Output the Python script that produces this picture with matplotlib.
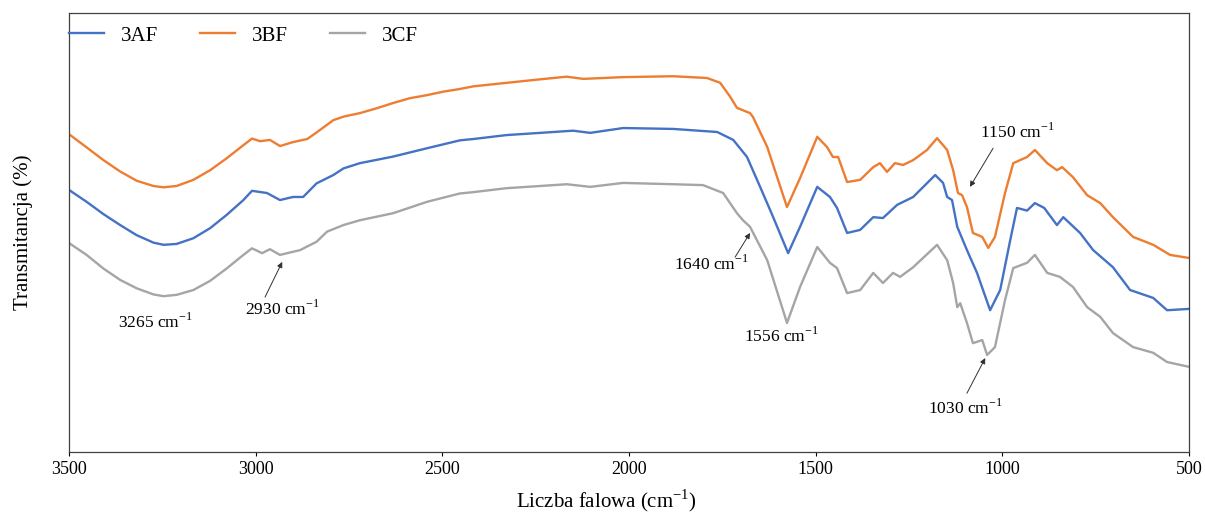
import matplotlib

matplotlib.use("Agg")
import matplotlib.pyplot as plt

plt.rcParams["font.family"] = ["Liberation Serif", "DejaVu Serif"]
plt.rcParams["mathtext.fontset"] = "custom"
plt.rcParams["mathtext.rm"] = "Liberation Serif"

# colours (Excel-like default palette)
C_A = "#4472C4"
C_B = "#ED7D31"
C_C = "#A5A5A5"

# ---- data (wavenumber cm-1, transmittance in arbitrary %) ----
WN_B = [3500, 3453, 3408, 3363, 3319, 3274, 3247, 3212, 3167, 3122, 3078, 3033,
        3010, 2988, 2962, 2935, 2900, 2862, 2837, 2792, 2765, 2721, 2676, 2632,
        2587, 2541, 2497, 2453, 2417, 2328, 2238, 2167, 2123, 2016, 1882, 1791,
        1756, 1729, 1711, 1676, 1668, 1630, 1577, 1542, 1496, 1470, 1454, 1440,
        1416, 1381, 1346, 1328, 1309, 1288, 1266, 1239, 1202, 1175, 1148, 1132,
        1119, 1108, 1095, 1079, 1054, 1038, 1020, 993, 971, 934, 913, 880, 854,
        840, 811, 773, 738, 704, 650, 596, 551, 500]
T_B = [72.4, 69.4, 66.5, 63.9, 61.8, 60.6, 60.3, 60.6, 62.0, 64.2, 66.9, 69.9,
       71.4, 70.8, 71.1, 69.7, 70.6, 71.3, 72.8, 75.6, 76.4, 77.2, 78.3, 79.5,
       80.6, 81.3, 82.1, 82.7, 83.3, 84.1, 84.9, 85.5, 85.0, 85.4, 85.6, 85.2,
       84.1, 80.9, 78.4, 77.2, 76.3, 69.5, 55.8, 62.4, 71.8, 69.5, 67.2, 67.2,
       61.5, 62.0, 64.9, 65.8, 63.8, 65.8, 65.4, 66.5, 68.8, 71.5, 68.8, 64.2,
       59.0, 58.5, 55.8, 49.9, 49.0, 46.5, 49.0, 59.0, 65.8, 67.2, 68.8, 65.8, 64.2,
       64.9, 62.6, 58.5, 56.7, 53.5, 49.0, 47.2, 44.9, 44.2]

WN_A = [3500, 3453, 3408, 3363, 3319, 3274, 3247, 3212, 3167, 3122, 3078, 3033,
        3010, 2970, 2935, 2900, 2873, 2837, 2792, 2765, 2721, 2632, 2541, 2453,
        2417, 2328, 2238, 2150, 2104, 2016, 1882, 1764, 1721, 1684, 1649, 1614,
        1574, 1542, 1496, 1462, 1443, 1416, 1381, 1346, 1320, 1282, 1239, 1180,
        1159, 1148, 1135, 1121, 1095, 1068, 1033, 1006, 979, 961, 934, 913, 888,
        854, 837, 792, 757, 704, 658, 596, 559, 500]
T_A = [59.7, 57.0, 54.2, 51.7, 49.4, 47.7, 47.2, 47.4, 48.7, 51.0, 54.0, 57.4,
       59.5, 59.0, 57.4, 58.1, 58.1, 61.2, 63.1, 64.6, 65.8, 67.3, 69.2, 71.0,
       71.3, 72.2, 72.7, 73.2, 72.7, 73.8, 73.6, 72.9, 71.1, 67.2, 60.4, 53.5,
       45.3, 51.3, 60.4, 58.1, 55.6, 49.9, 50.6, 53.5, 53.3, 56.3, 58.1, 63.1,
       61.3, 58.1, 57.4, 51.3, 46.0, 40.8, 32.3, 36.9, 48.3, 55.6, 55.0, 56.7,
       55.6, 51.7, 53.5, 49.9, 46.0, 42.1, 36.9, 35.1, 32.3, 32.6]

WN_C = [3500, 3453, 3408, 3363, 3319, 3274, 3247, 3212, 3167, 3122, 3078, 3033,
        3010, 2983, 2962, 2935, 2881, 2837, 2809, 2765, 2721, 2632, 2541, 2453,
        2417, 2328, 2238, 2167, 2104, 2016, 1882, 1802, 1748, 1711, 1695, 1676,
        1630, 1577, 1542, 1496, 1462, 1443, 1416, 1381, 1346, 1320, 1293, 1274,
        1239, 1175, 1148, 1132, 1121, 1113, 1095, 1079, 1054, 1041, 1020, 993,
        971, 934, 913, 880, 846, 811, 773, 738, 704, 650, 596, 559, 500]
T_C = [47.6, 44.9, 41.8, 39.2, 37.3, 35.9, 35.5, 35.8, 36.9, 39.0, 41.8, 44.9,
       46.4, 45.3, 46.2, 44.9, 46.0, 47.9, 50.2, 51.7, 52.8, 54.4, 57.0, 58.9,
       59.2, 60.1, 60.6, 61.0, 60.4, 61.3, 61.0, 60.8, 59.0, 54.4, 52.8, 51.3,
       43.7, 29.4, 37.6, 46.7, 43.1, 41.9, 36.2, 36.9, 40.8, 38.5, 40.8, 39.9,
       42.1, 47.2, 43.7, 38.5, 33.0, 33.9, 29.4, 24.8, 25.5, 22.1, 23.9, 34.6,
       41.9, 43.1, 44.9, 40.8, 39.9, 37.6, 33.0, 30.8, 27.1, 23.9, 22.6, 20.5, 19.4]

LABELS = ["3AF", "3BF", "3CF"]

fig = plt.figure(figsize=(12.05, 5.15), dpi=100)
ax = fig.add_axes([0.0573, 0.1223, 0.9295, 0.8524])

ax.plot(WN_A, T_A, color=C_A, lw=1.7, label=LABELS[0])
ax.plot(WN_B, T_B, color=C_B, lw=1.7, label=LABELS[1])
ax.plot(WN_C, T_C, color=C_C, lw=1.7, label=LABELS[2])

ax.set_xlim(3500, 500)
ax.set_ylim(0, 100)
ax.set_xticks([3500, 3000, 2500, 2000, 1500, 1000, 500])
ax.tick_params(axis="x", direction="out", length=3, width=0.8, labelsize=13)
ax.tick_params(axis="y", left=False, labelleft=False)
for sp in ax.spines.values():
    sp.set_color("#404040")
    sp.set_linewidth(0.9)

ax.set_xlabel(r"Liczba falowa (cm$^{\mathregular{-1}}$)", fontsize=15)
ax.xaxis.set_label_coords(0.480, -0.080)
ax.set_ylabel("Transmitancja (%)", fontsize=15, labelpad=26)

ax.legend(loc="center left", bbox_to_anchor=(0.0, 0.948), ncol=3, frameon=False,
          fontsize=15, handlelength=1.7, handletextpad=0.8, columnspacing=2.0,
          borderpad=0, borderaxespad=0)

# peak annotations
fs = 12.5
arw = dict(arrowstyle="-|>", color="#303030", lw=0.7, mutation_scale=8,
           shrinkA=0, shrinkB=0)
ax.text(3270, 29.6, r"3265 cm$^{\mathregular{-1}}$", fontsize=fs, ha="center", va="center")
ax.text(2929, 32.6, r"2930 cm$^{\mathregular{-1}}$", fontsize=fs, ha="center", va="center")
ax.annotate("", xy=(2929, 43.3), xytext=(2975, 35.3), arrowprops=arw)
ax.text(1780, 42.8, r"1640 cm$^{\mathregular{-1}}$", fontsize=fs, ha="center", va="center")
ax.annotate("", xy=(1676, 49.9), xytext=(1716, 44.4), arrowprops=arw)
ax.text(1593, 26.4, r"1556 cm$^{\mathregular{-1}}$", fontsize=fs, ha="center", va="center")
ax.text(961, 72.9, r"1150 cm$^{\mathregular{-1}}$", fontsize=fs, ha="center", va="center")
ax.annotate("", xy=(1087, 60.4), xytext=(1025, 69.2), arrowprops=arw)
ax.text(1100, 10.0, r"1030 cm$^{\mathregular{-1}}$", fontsize=fs, ha="center", va="center")
ax.annotate("", xy=(1046, 21.4), xytext=(1095, 13.4), arrowprops=arw)

fig.savefig("out.png", dpi=100)
